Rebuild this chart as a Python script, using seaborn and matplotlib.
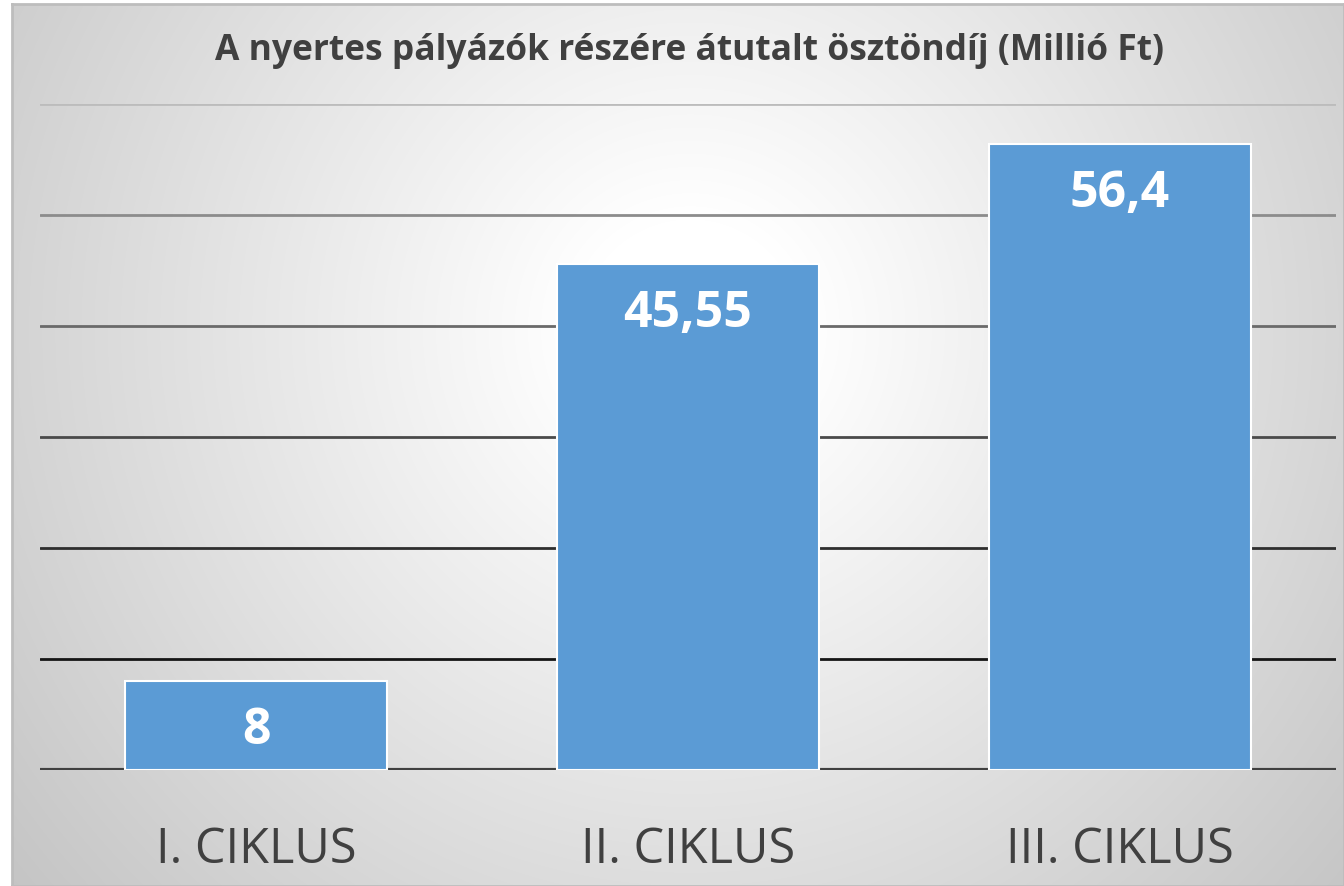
import numpy as np
import pandas as pd
import matplotlib
matplotlib.use("Agg")
import matplotlib.pyplot as plt
import seaborn as sns

categories = ["I. CIKLUS", "II. CIKLUS", "III. CIKLUS"]
values = [8, 45.55, 56.4]
value_labels = ["8", "45,55", "56,4"]
title = "A nyertes pályázók részére átutalt ösztöndíj (Millió Ft)"

sns.set_theme(style="white")
plt.rcParams['font.family'] = ['Open Sans', 'DejaVu Sans']

W, H = 1344, 887
fig = plt.figure(figsize=(W / 100, H / 100), dpi=100)
fig.patch.set_facecolor("white")

# background radial gradient panel
bx0, by0 = 12, 5
bg = fig.add_axes([bx0 / W, 0, (W - bx0) / W, (H - by0) / H], zorder=0)
yy, xx = np.mgrid[0:H - by0, 0:W - bx0]
cx, cy = 690 - bx0, 330 - by0
r = np.hypot(xx - cx, yy - cy)
v = 1 - 0.23 * np.clip((r - 110) / 770, 0, 1)
v = np.clip(v, 0.77, 1)
bg.imshow(np.dstack([v, v, v]), aspect="auto", interpolation="bilinear")
bg.set_xticks([]); bg.set_yticks([])
for s in bg.spines.values():
    s.set_color("#bdbdbd"); s.set_linewidth(2)

# main axes
L, R, T, B = 40, 1336, 105, 771
ax = fig.add_axes([L / W, (H - B) / H, (R - L) / W, (B - T) / H], zorder=1)
ax.patch.set_alpha(0)
df = pd.DataFrame({"cat": categories, "val": values})
sns.barplot(data=df, x="cat", y="val", ax=ax, color="#5B9BD5", saturation=1,
            width=0.605, edgecolor="white", linewidth=1.5, zorder=3)
ax.set_xlim(-0.5, 2.5)
ax.set_ylim(0, 60)
ax.set_yticks(np.arange(0, 61, 10))
ax.set_yticklabels([])
ax.tick_params(axis="y", length=0)
ax.grid(axis="y", linewidth=2)
grid_colors = ["#404040", "#151515", "#2e2e2e", "#4a4a4a", "#6a6a6a", "#8c8c8c", "#bcbcbc"]
for gl, c in zip(ax.get_ygridlines(), grid_colors):
    gl.set_color(c)
    gl.set_zorder(1)
ax.get_ygridlines()[0].set_linewidth(3)
for s in ax.spines.values():
    s.set_visible(False)
ax.set_xlabel(""); ax.set_ylabel("")
ax.tick_params(axis="x", length=0, pad=39, labelsize=35, labelcolor="#404040")

for i, (val, lab) in enumerate(zip(values, value_labels)):
    ax.annotate(lab, (i, val), xytext=(0, -35), textcoords="offset points",
                ha="center", va="center", color="white", fontsize=36,
                fontweight="bold", zorder=5)

fig.text(690 / W, 1 - 51 / H, title, ha="center", va="center",
         fontsize=25.5, fontweight="bold", color="#404040")

fig.savefig("out.png", dpi=100)
